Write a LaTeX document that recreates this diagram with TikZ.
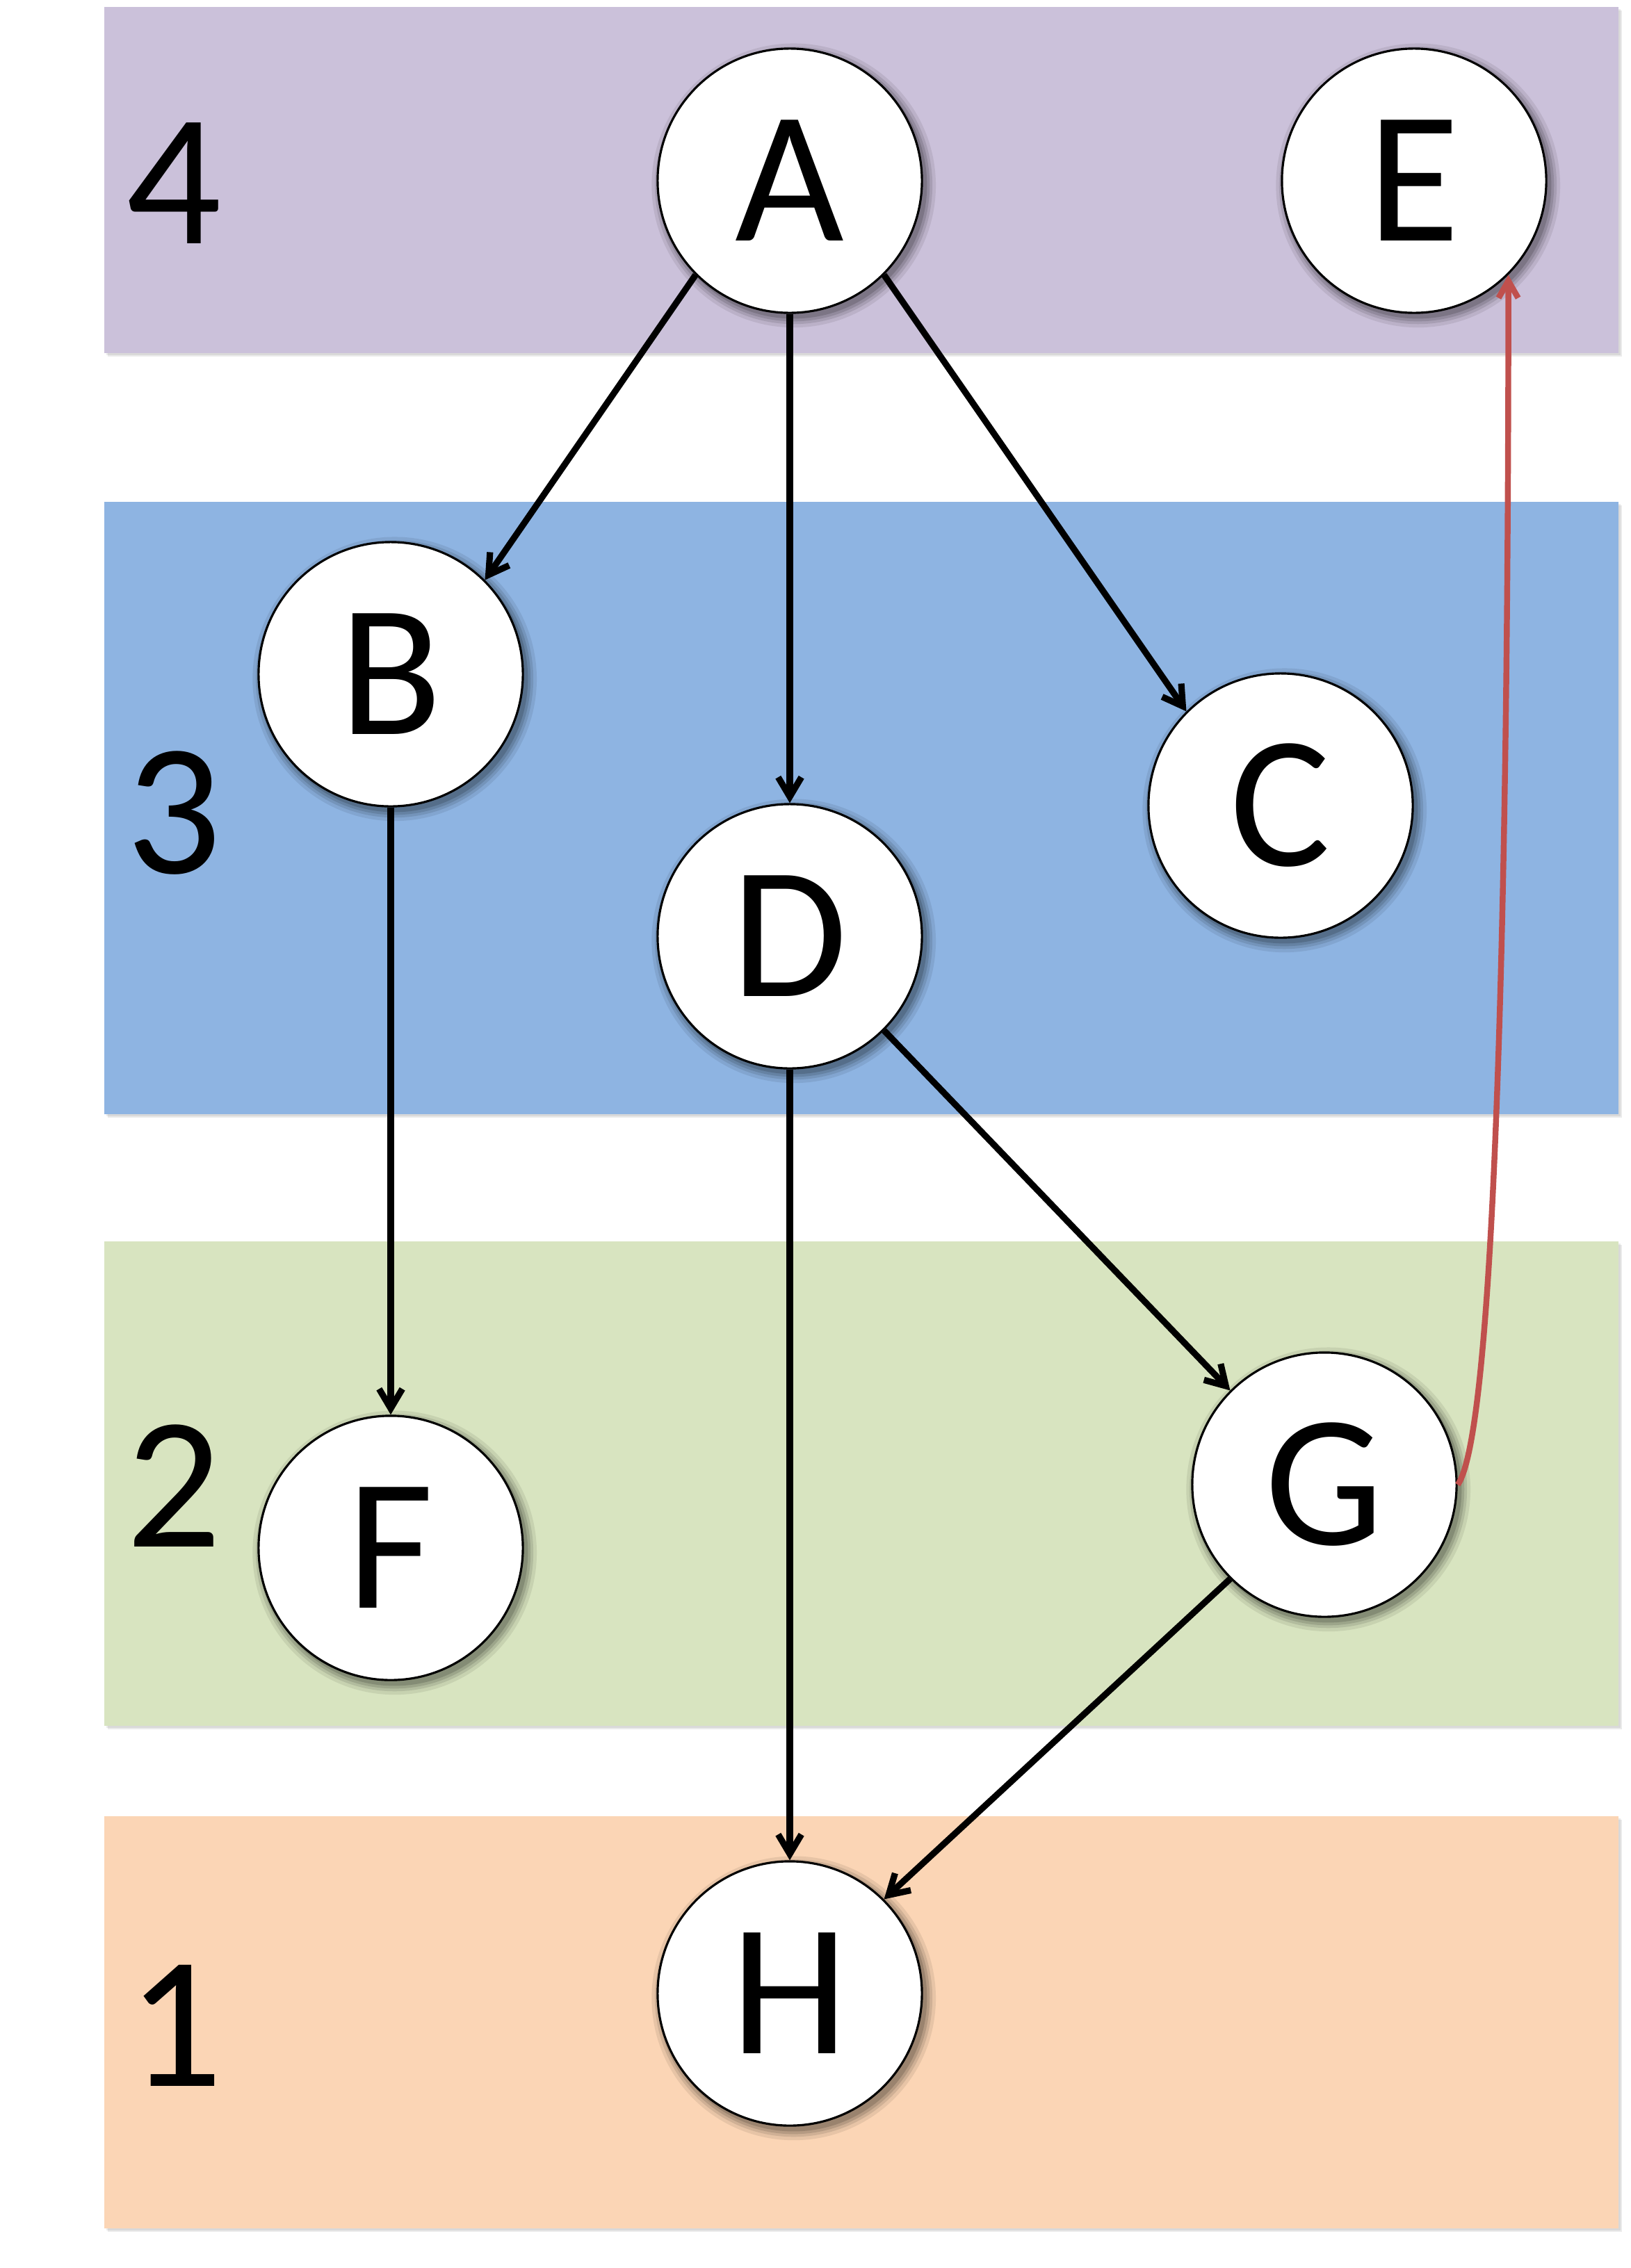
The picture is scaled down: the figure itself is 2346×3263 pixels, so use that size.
\documentclass[tikz,border=0pt]{standalone}
\usepackage{fontspec}
\setmainfont{Carlito}
\usetikzlibrary{arrows.meta,shadows}
\definecolor{bandpurple}{RGB}{203,193,218}
\definecolor{bandblue}{RGB}{142,180,226}
\definecolor{bandgreen}{RGB}{216,228,192}
\definecolor{bandorange}{RGB}{251,213,181}
\definecolor{redline}{RGB}{192,80,77}
\tikzset{
  band/.style={draw=none,
    general shadow={shadow xshift=1.5pt, shadow yshift=-1.5pt, opacity=0.08, fill=black},
    general shadow={shadow xshift=0.8pt, shadow yshift=-0.8pt, opacity=0.08, fill=black}},
  vert/.style={circle, draw=black, line width=0.9pt, fill=white, minimum size=3.8cm, inner sep=0pt,
    font=\fontsize{77}{77}\selectfont,
    general shadow={shadow xshift=1.5pt, shadow yshift=-1.8pt, shadow scale=1.075, opacity=0.08, fill=black},
    general shadow={shadow xshift=1.5pt, shadow yshift=-1.8pt, shadow scale=1.05, opacity=0.1, fill=black},
    general shadow={shadow xshift=1.5pt, shadow yshift=-1.8pt, shadow scale=1.03, opacity=0.12, fill=black},
    general shadow={shadow xshift=1.5pt, shadow yshift=-1.8pt, shadow scale=1.01, opacity=0.15, fill=black}},
  lvl/.style={font=\fontsize{77}{77}\selectfont, inner sep=0pt},
  edge/.style={line width=2.6pt, -{Straight Barb[length=8pt,width=9.5pt]}},
  redge/.style={line width=2.4pt, draw=redline, -{Straight Barb[length=7pt,width=8pt]}},
}
\begin{document}
\begin{tikzpicture}[x=0.01cm, y=-0.01cm]
\useasboundingbox (0,0) rectangle (2346,3263);
% bands
\fill[band, fill=bandpurple] (150,10) rectangle (2328,508);
\fill[band, fill=bandblue] (150,722) rectangle (2328,1603);
\fill[band, fill=bandgreen] (150,1786) rectangle (2328,2483);
\fill[band, fill=bandorange] (150,2613) rectangle (2328,3206);
% level labels
\node[lvl] (l4) at (250,264) {4};
\node[lvl] (l3) at (250,1170) {3};
\node[lvl] (l2) at (250,2138) {2};
\node[lvl] (l1) at (252,2914) {1};
% vertices
\node[vert] (A) at (1136,260) {A};
\node[vert] (E) at (2034,260) {E};
\node[vert] (B) at (562,970) {B};
\node[vert] (C) at (1842,1159) {C};
\node[vert] (D) at (1136,1347) {D};
\node[vert] (F) at (562,2227) {F};
\node[vert] (G) at (1905,2136) {G};
\node[vert] (H) at (1136,2868) {H};
% edges
\draw[edge] (A.225) -- (B.45);
\draw[edge] (A.south) -- (D.north);
\draw[edge] (A.315) -- (C.135);
\draw[edge] (B.south) -- (F.north);
\draw[edge] (D.315) -- (G.135);
\draw[edge] (D.south) -- (H.north);
\draw[edge] (G.225) -- (H.45);
\draw[redge] (G.east) .. controls (2160,2050) and (2170,1000) .. (E.-45);
\end{tikzpicture}
\end{document}
